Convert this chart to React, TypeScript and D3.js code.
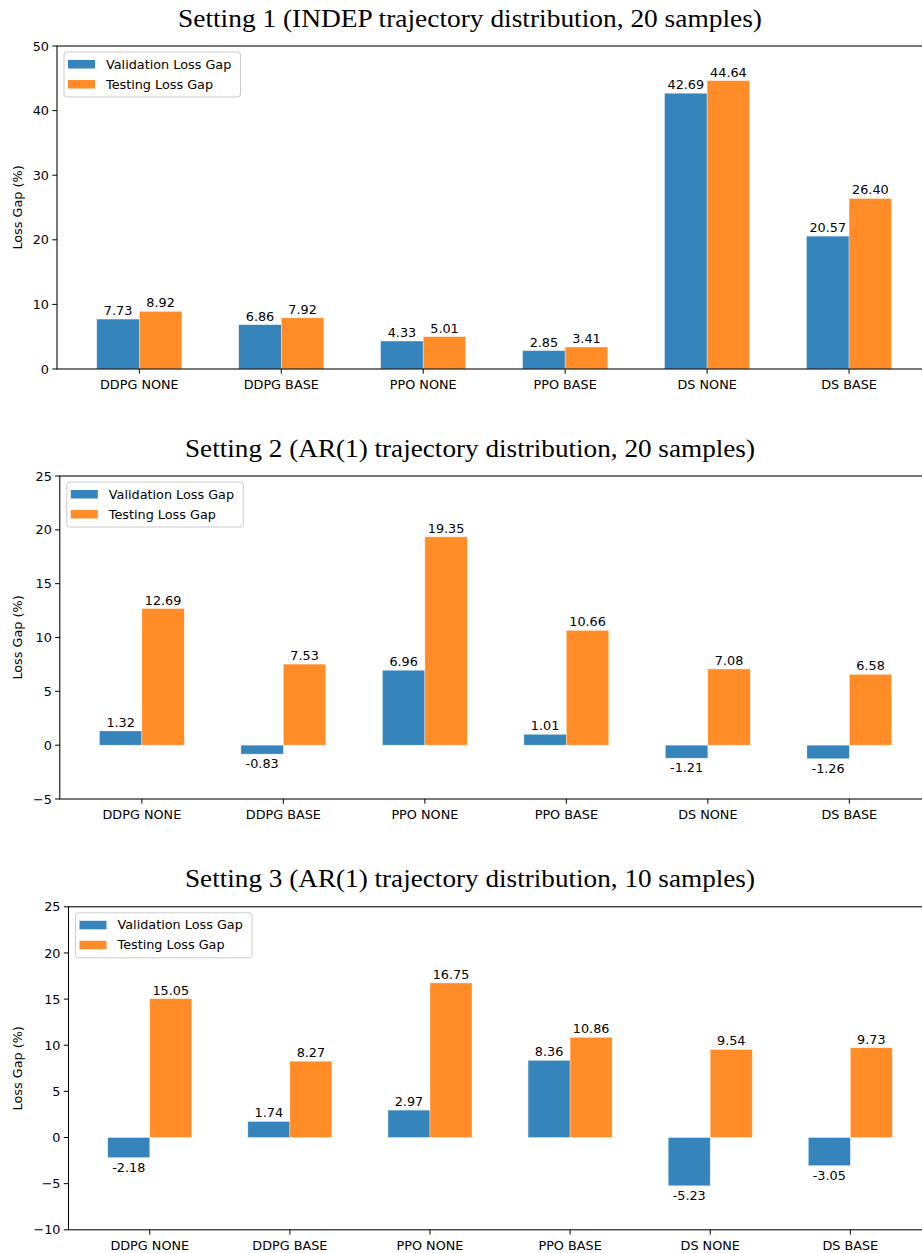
import React from "react";
import * as d3 from "d3";

const categories = ["DDPG NONE", "DDPG BASE", "PPO NONE", "PPO BASE", "DS NONE", "DS BASE"];
const seriesNames = ["Validation Loss Gap", "Testing Loss Gap"];
const titles = [
  "Setting 1 (INDEP trajectory distribution, 20 samples)",
  "Setting 2 (AR(1) trajectory distribution, 20 samples)",
  "Setting 3 (AR(1) trajectory distribution, 10 samples)",
];
const s1Validation = [7.73, 6.86, 4.33, 2.85, 42.69, 20.57];
const s1Testing = [8.92, 7.92, 5.01, 3.41, 44.64, 26.4];
const s2Validation = [1.32, -0.83, 6.96, 1.01, -1.21, -1.26];
const s2Testing = [12.69, 7.53, 19.35, 10.66, 7.08, 6.58];
const s3Validation = [-2.18, 1.74, 2.97, 8.36, -5.23, -3.05];
const s3Testing = [15.05, 8.27, 16.75, 10.86, 9.54, 9.73];
const s1Ticks = [0, 10, 20, 30, 40, 50];
const s2Ticks = [-5, 0, 5, 10, 15, 20, 25];
const s3Ticks = [-10, -5, 0, 5, 10, 15, 20, 25];

const COLORS = ["#1f77b4", "#ff7f0e"];
const FONT = "DejaVu Sans";
const FS = 12.8;

const panels = [
  { title: titles[0], titleW: 584, vals: [s1Validation, s1Testing], ticks: s1Ticks, yDomain: [0, 50], left: 57, right: 931.4, top: 46, bottom: 369, titleY: 27 },
  { title: titles[1], titleW: 570, vals: [s2Validation, s2Testing], ticks: s2Ticks, yDomain: [-5, 25], left: 59.8, right: 931.4, top: 476, bottom: 799, titleY: 456.5 },
  { title: titles[2], titleW: 570, vals: [s3Validation, s3Testing], ticks: s3Ticks, yDomain: [-10, 25], left: 68.5, right: 931.6, top: 906.8, bottom: 1229.8, titleY: 886.5 },
];

const BW = 0.3;

function Panel({ p }: { p: (typeof panels)[number] }) {
  const x = d3.scaleLinear().domain([-0.58, categories.length - 1 + 0.58]).range([p.left, p.right]);
  const y = d3.scaleLinear().domain(p.yDomain).range([p.bottom, p.top]);
  const fmt = d3.format("d");
  const cy = (p.top + p.bottom) / 2;
  return (
    <g>
      <text x={470 - p.titleW / 2} y={p.titleY} textLength={p.titleW} lengthAdjust="spacingAndGlyphs" fontFamily="Liberation Serif" fontSize={25} fill="#000">
        {p.title}
      </text>
      {p.vals.map((series, si) =>
        series.map((v, i) => {
          const x0 = x(i - BW + si * BW);
          const x1 = x(i + si * BW);
          const y0 = y(Math.max(0, v));
          const y1 = y(Math.min(0, v));
          return (
            <g key={`${si}-${i}`}>
              <rect x={x0} y={y0} width={x1 - x0} height={y1 - y0} fill={COLORS[si]} fillOpacity={0.9} stroke="#ffffff" strokeOpacity={0.6} strokeWidth={0.6} />
              <text
                x={(x0 + x1) / 2}
                y={v >= 0 ? y0 - 4 : y1 + 14}
                textAnchor="middle"
                fontFamily={FONT}
                fontSize={FS}
                fill="#000"
              >
                {v.toFixed(2)}
              </text>
            </g>
          );
        })
      )}
      <rect x={p.left} y={p.top} width={p.right - p.left} height={p.bottom - p.top} fill="none" stroke="#000" strokeWidth={1.05} />
      {p.ticks.map((t) => (
        <g key={t}>
          <line x1={p.left - 4.7} x2={p.left} y1={y(t)} y2={y(t)} stroke="#000" strokeWidth={1} />
          <text x={p.left - 8} y={y(t)} dy="0.36em" textAnchor="end" fontFamily={FONT} fontSize={FS} fill="#000">
            {fmt(t)}
          </text>
        </g>
      ))}
      {categories.map((c, i) => (
        <g key={c}>
          <line x1={x(i)} x2={x(i)} y1={p.bottom} y2={p.bottom + 4.7} stroke="#000" strokeWidth={1} />
          <text x={x(i)} y={p.bottom + 20} textAnchor="middle" fontFamily={FONT} fontSize={FS} fill="#000">
            {c}
          </text>
        </g>
      ))}
      <text transform={`translate(22,${cy}) rotate(-90)`} textAnchor="middle" fontFamily={FONT} fontSize={FS} fill="#000">
        Loss Gap (%)
      </text>
      <g transform={`translate(${p.left + 7},${p.top + 6})`}>
        <rect x={0} y={0} width={176.5} height={45} rx={3} fill="#fff" fillOpacity={0.8} stroke="#cccccc" strokeWidth={1} />
        {seriesNames.map((s, si) => (
          <g key={s} transform={`translate(0,${si * 20})`}>
            <rect x={4} y={8} width={27} height={8.5} fill={COLORS[si]} fillOpacity={0.9} />
            <text x={42} y={16.5} fontFamily={FONT} fontSize={FS} fill="#000">
              {s}
            </text>
          </g>
        ))}
      </g>
    </g>
  );
}

export default function App() {
  return (
    <svg width={922} height={1253} style={{ position: "absolute", left: 0, top: 0, background: "#fff" }}>
      <rect width={922} height={1253} fill="#fff" />
      {panels.map((p, i) => (
        <Panel key={i} p={p} />
      ))}
    </svg>
  );
}
